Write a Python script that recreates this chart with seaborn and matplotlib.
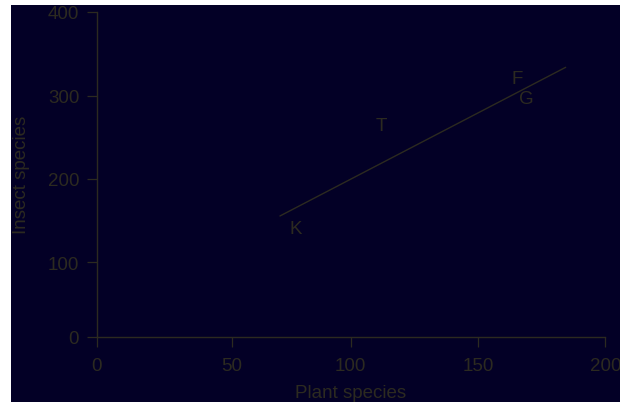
import matplotlib
matplotlib.use("Agg")
import matplotlib.pyplot as plt
import seaborn as sns
import numpy as np
import pandas as pd
from matplotlib.patches import Rectangle

# ---- données ----
codes = ["K", "T", "F", "G"]
plant_species = [77, 112, 165.5, 169]
insect_species = [141, 264, 320, 297]

# droite de tendance (extrémités)
fit_x = [70.3, 184.4]
fit_y = [155.6, 333.8]

x_ticks = [0, 50, 100, 150, 200]
y_ticks = [0, 100, 200, 300, 400]

# l'original est légèrement déformé : position réelle des graduations
x_tick_pos = [0, 53.07, 99.88, 149.92, 200]
y_tick_pos = [0, 91.57, 194.1, 296.6, 400]

navy = "#030026"
ink = "#2c2a20"

sns.set_theme(style="ticks")
plt.rcParams["font.family"] = ["Liberation Sans", "DejaVu Sans"]
plt.rcParams.update({
    "axes.edgecolor": ink,
    "axes.labelcolor": ink,
    "xtick.color": ink,
    "ytick.color": ink,
    "text.color": ink,
})

fig = plt.figure(figsize=(6.2, 4.06), dpi=100, facecolor="white")
fig.patches.append(Rectangle((11 / 620, 3 / 406), 1 - 11 / 620, (406 - 9) / 406,
                             transform=fig.transFigure, facecolor=navy,
                             edgecolor="none", zorder=-10))

ax = fig.add_axes([96.6 / 620, (406 - 337.7) / 406, 508.8 / 620, 325 / 406])
ax.set_facecolor("none")

ax.set_xscale("function", functions=(lambda v: np.interp(v, x_ticks, x_tick_pos),
                                     lambda v: np.interp(v, x_tick_pos, x_ticks)))
ax.set_yscale("function", functions=(lambda v: np.interp(v, y_ticks, y_tick_pos),
                                     lambda v: np.interp(v, y_tick_pos, y_ticks)))

fit = pd.DataFrame({"x": fit_x, "y": fit_y})
sns.lineplot(data=fit, x="x", y="y", ax=ax, color=ink, linewidth=1.0)

for c, xv, yv in zip(codes, plant_species, insect_species):
    ax.text(xv, yv, c, ha="center", va="center", fontsize=13.5, color=ink)

ax.set_xlim(0, 200)
ax.set_ylim(0, 400)
ax.set_xticks(x_ticks)
ax.set_yticks(y_ticks)
ax.set_xticklabels([str(t) for t in x_ticks])
ax.set_yticklabels([str(t) for t in y_ticks])
ax.minorticks_off()
ax.tick_params(axis="both", labelsize=13.5, length=7.5, width=0.9)
ax.tick_params(axis="x", pad=7)
ax.tick_params(axis="y", pad=5)
for s in ["left", "bottom"]:
    ax.spines[s].set_linewidth(1.0)
sns.despine(ax=ax)

ax.set_xlabel("Plant species", fontsize=13.5)
ax.set_ylabel("Insect species", fontsize=13.5)
ax.xaxis.set_label_coords(0.5, -0.145)
ax.yaxis.set_label_coords(-0.131, 0.5)

fig.savefig("out.png", dpi=100, facecolor="white")
